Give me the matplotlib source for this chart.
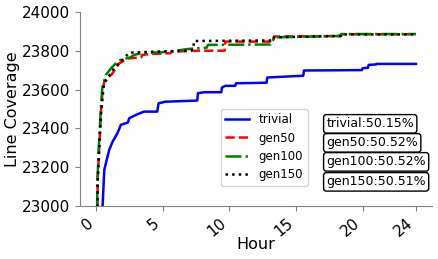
import numpy as np
import matplotlib
matplotlib.use("Agg")
import matplotlib.pyplot as plt

# -----------------------------
# Data (hour, line coverage)
# -----------------------------

trivial_h = [0, 0.5, 0.63, 0.75, 1.0, 1.25, 1.62, 1.87, 2.4, 2.5, 3.0, 3.6, 4.6, 4.7, 5.2,
             7.6, 7.65, 8.1, 9.4, 9.45, 9.7, 10.45, 10.5, 12.8, 12.85, 15.55, 15.6,
             19.95, 20.0, 20.4, 20.45, 21.0, 21.05, 24.0]
trivial_v = [20000, 23000, 23186, 23220, 23289, 23331, 23375, 23418, 23430, 23452, 23469,
             23486, 23486, 23529, 23537, 23543, 23581, 23586, 23586, 23610, 23619, 23619,
             23632, 23635, 23662, 23671, 23698, 23700, 23710, 23712, 23727, 23729, 23732,
             23732]

gen50_h = [0, 0.13, 0.25, 0.37, 0.5, 0.63, 1.25, 1.75, 2.4, 3.4, 3.45, 4.1, 5.6, 5.65,
           7.6, 9.65, 9.7, 13.3, 13.35, 18.35, 18.4, 24]
gen50_v = [21000, 23134, 23306, 23478, 23598, 23641, 23684, 23735, 23760, 23766, 23778,
           23783, 23787, 23795, 23800, 23800, 23847, 23847, 23873, 23876, 23885, 23885]

gen100_h = [0, 0.1, 0.22, 0.35, 0.48, 0.75, 1.14, 1.62, 1.87, 2.6, 2.85, 3.4, 5.6, 6.8,
            7.6, 8.3, 8.4, 13.1, 13.4, 18.35, 18.4, 24]
gen100_v = [21000, 23100, 23306, 23478, 23610, 23675, 23710, 23744, 23753, 23766, 23778,
            23787, 23795, 23808, 23813, 23815, 23830, 23832, 23869, 23876, 23886, 23886]

gen150_h = [0, 0.13, 0.25, 0.38, 0.6, 1.37, 2.1, 2.5, 4.4, 6.9, 7.3, 7.35, 13.3, 13.35,
            18.35, 18.4, 24]
gen150_v = [21000, 23120, 23300, 23470, 23630, 23710, 23760, 23790, 23795, 23800, 23805,
            23850, 23853, 23869, 23876, 23884, 23884]

labels = ["trivial", "gen50", "gen100", "gen150"]
ratios = ["50.15%", "50.52%", "50.52%", "50.51%"]

x_ticks = [0, 5, 10, 15, 20, 24]
y_ticks = [23000, 23200, 23400, 23600, 23800, 24000]

# -----------------------------
# Plot
# -----------------------------

fig = plt.figure(figsize=(4.39, 2.59), dpi=100)
ax = fig.add_axes([0.182, 0.205, 0.802, 0.749])

series = [(trivial_h, trivial_v), (gen50_h, gen50_v), (gen100_h, gen100_v), (gen150_h, gen150_v)]
colors = ["blue", "red", "green", "black"]
styles = ["-", "--", "-.", ":"]

for (h, v), lab, c, ls in zip(series, labels, colors, styles):
    ax.plot(h, v, color=c, linestyle=ls, linewidth=1.8, label=lab)

ax.set_ylim(23000, 24000)
ax.set_xticks(x_ticks)
ax.set_yticks(y_ticks)
ax.tick_params(axis="both", labelsize=11, color="gray")
plt.setp(ax.get_xticklabels(), rotation=40, ha="right", rotation_mode="default")

ax.spines["top"].set_visible(False)
ax.spines["right"].set_visible(False)
ax.spines["left"].set_color("gray")
ax.spines["bottom"].set_color("gray")

ax.set_xlabel("Hour", fontsize=11.5, labelpad=-2)
ax.set_ylabel("Line Coverage", fontsize=11.5, labelpad=1)

ax.legend(loc="lower left", bbox_to_anchor=(0.40, 0.103), borderaxespad=0,
          fontsize=8.5, handlelength=2.0, labelspacing=0.45)

# coverage boxes
box_y = [0.423, 0.325, 0.227, 0.124]
for lab, r, yy in zip(labels, ratios, box_y):
    ax.text(0.700, yy, lab + ":" + r, transform=ax.transAxes,
            fontsize=9, va="center", ha="left",
            bbox=dict(boxstyle="round,pad=0.22", facecolor="white", edgecolor="black"))

fig.savefig("out.png", dpi=100)
